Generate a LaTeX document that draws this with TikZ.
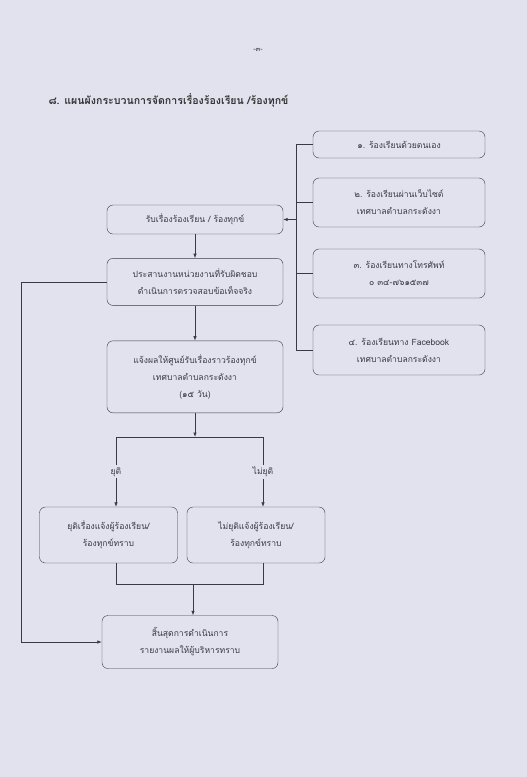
\documentclass[tikz,border=0pt]{standalone}
\usepackage{fontspec}
\newfontfamily\thaifont[Script=Thai]{Loma}
\usetikzlibrary{positioning,arrows.meta}

\definecolor{paper}{RGB}{226,226,238}
\definecolor{ink}{RGB}{58,58,70}

\begin{document}
\begin{tikzpicture}[
    x=1pt, y=-1pt,
    every node/.style={font=\thaifont\fontsize{8.6}{17}\selectfont, text=ink},
    flow/.style={rectangle, draw=ink, rounded corners=6pt, align=center, minimum width=176pt, inner sep=2pt},
    src/.style={rectangle, draw=ink, rounded corners=6pt, align=center, minimum width=172pt, inner sep=2pt},
    result/.style={rectangle, draw=ink, rounded corners=6pt, align=center, minimum width=138pt, minimum height=56pt, inner sep=2pt},
    tag/.style={fill=paper, inner sep=2pt},
    arrow/.style={draw=ink, line width=0.7pt, -{Latex[length=4.5pt,width=3.5pt]}},
    line/.style={draw=ink, line width=0.7pt}
]
    % page
    \fill[paper] (0,0) rectangle (527,777);
    \useasboundingbox (0,0) rectangle (527,777);

    \node[font=\thaifont\fontsize{7}{8}\selectfont] (page) at (258,50) {-๓-};
    \node[anchor=west, font=\thaifont\bfseries\fontsize{10.6}{13}\selectfont, text=black!80] (title) at (45,100)
        {๘. แผนผังกระบวนการจัดการเรื่องร้องเรียน /ร้องทุกข์};

    % channels
    \node[src, minimum height=27pt] (c1) at (399,144.5) {๑. ร้องเรียนด้วยตนเอง};
    \node[src, minimum height=49pt] (c2) at (399,202.5) {๒. ร้องเรียนผ่านเว็บไซต์\\เทศบาลตำบลกระดังงา};
    \node[src, minimum height=49pt] (c3) at (399,273.5) {๓. ร้องเรียนทางโทรศัพท์\\๐ ๓๔-๗๖๑๕๓๗};
    \node[src, minimum height=50pt] (c4) at (399,350) {๔. ร้องเรียนทาง Facebook\\เทศบาลตำบลกระดังงา};

    % main flow
    \node[flow, minimum height=29pt] (recv) at (195,219.5) {รับเรื่องร้องเรียน / ร้องทุกข์};
    \node[flow, minimum height=47pt, below=24pt of recv] (coord) {ประสานงานหน่วยงานที่รับผิดชอบ\\ดำเนินการตรวจสอบข้อเท็จจริง};
    \node[flow, minimum height=72pt, below=35pt of coord] (notify) {แจ้งผลให้ศูนย์รับเรื่องราวร้องทุกข์\\เทศบาลตำบลกระดังงา\\(๑๕ วัน)};
    \node[result] (stop) at (108.5,535) {ยุติเรื่องแจ้งผู้ร้องเรียน/\\ร้องทุกข์ทราบ};
    \node[result] (cont) at (256,535) {ไม่ยุติแจ้งผู้ร้องเรียน/\\ร้องทุกข์ทราบ};
    \node[flow, minimum height=53pt] (finish) at (190,642) {สิ้นสุดการดำเนินการ\\รายงานผลให้ผู้บริหารทราบ};

    \coordinate (rail) at (296,0);
    \coordinate (splitL) at (116,437);
    \coordinate (splitR) at (263,437);
    \coordinate (joinL) at (116,584);
    \coordinate (joinR) at (263,584);
    \coordinate (joinM) at (193,584);

    % channels into the main flow
    \draw[line] (c1.west) -| (rail |- c4.west) -- (c4.west);
    \draw[line] (c2.west) -- (rail |- c2.west);
    \draw[line] (c3.west) -- (rail |- c3.west);
    \draw[arrow] (rail |- recv.east) -- (recv.east);

    \draw[arrow] (recv) -- (coord);
    \draw[arrow] (coord) -- (notify);
    \draw[arrow] (notify) -- (notify.south |- splitL);
    \draw[line] (splitL) -- (splitR);
    \draw[arrow] (splitL) -- node[tag] (yes) {ยุติ} (splitL |- stop.north);
    \draw[arrow] (splitR) -- node[tag] (no) {ไม่ยุติ} (splitR |- cont.north);

    \draw[line] (joinL |- stop.south) -- (joinL) -- (joinR) -- (joinR |- cont.south);
    \draw[arrow] (joinM) -- (joinM |- finish.north);

    % bypass to the end
    \draw[arrow] (coord.west) -- ++(-85,0) |- (finish.west);
\end{tikzpicture}
\end{document}
